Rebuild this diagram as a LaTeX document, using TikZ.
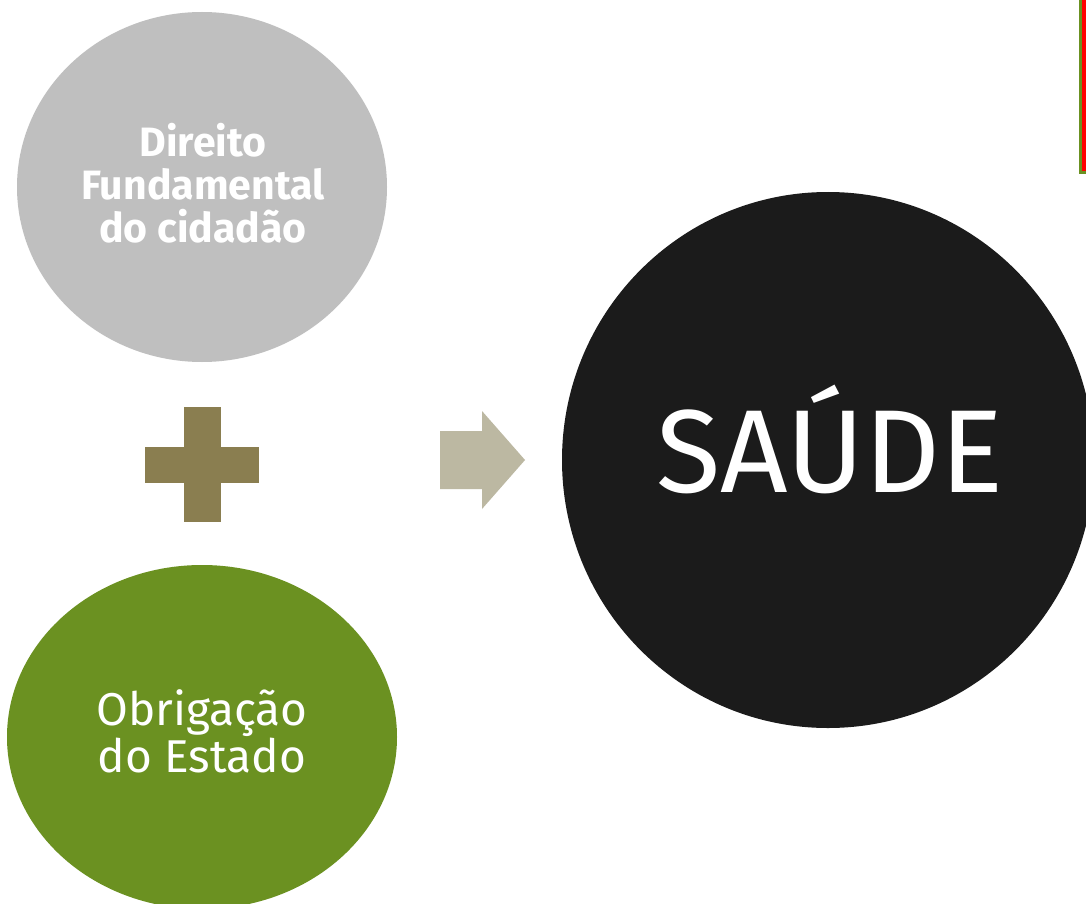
\documentclass[tikz,border=0pt]{standalone}
\usepackage{fontspec}
\setmainfont{Fira Sans}
\definecolor{cgray}{HTML}{BFBFBF}
\definecolor{cgreen}{HTML}{6B9121}
\definecolor{cblack}{HTML}{1B1B1B}
\definecolor{cplus}{HTML}{8A7E50}
\definecolor{carrow}{HTML}{BCB8A2}
\definecolor{cred}{HTML}{FF0000}
\definecolor{cbar}{HTML}{6B9121}
\tikzset{
  lbl/.style={text=white, align=center, inner sep=0pt},
}
\begin{document}
\begin{tikzpicture}[x=1pt,y=-1pt]
\useasboundingbox (0,0) rectangle (1086,904);
\clip (0,0) rectangle (1086,904);
\fill[white] (0,0) rectangle (1086,904);
% circles
\fill[cgray] (202,187) ellipse [x radius=185, y radius=175];
\fill[cgreen] (202,737) ellipse [x radius=195, y radius=172];
\fill[cblack] (828,460) ellipse [x radius=266, y radius=268];
% texts
\node[lbl, font=\fontsize{41}{43}\selectfont\bfseries, anchor=base] (dir) at (203,242) {Direito\\Fundamental\\do cidadão};
\node[lbl, font=\fontsize{46}{45}\selectfont, anchor=base] (obr) at (202,772) {Obrigação\\do Estado};
\node[lbl, font=\fontsize{118}{120}\selectfont, anchor=base] (sau) at (830,492) {SAÚDE};
% plus
\fill[cplus] (184,407) rectangle (221,522);
\fill[cplus] (145,447) rectangle (259,483);
% arrow
\fill[carrow] (440,431) -- (482,431) -- (482,411) -- (525,460) -- (482,509) -- (482,489) -- (440,489) -- cycle;
% corner bar
\filldraw[fill=cred, draw=cbar, line width=3pt] (1080,-10) rectangle (1100,172.5);
\end{tikzpicture}
\end{document}
